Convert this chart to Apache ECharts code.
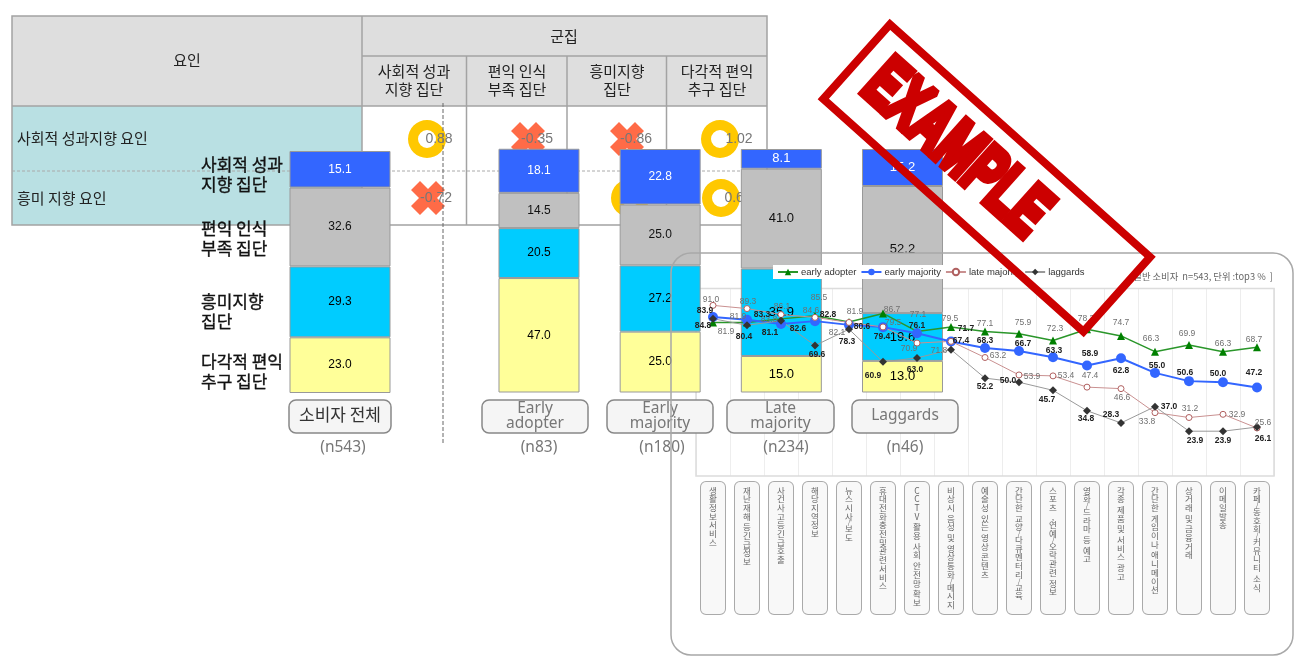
<!DOCTYPE html>
<html>
<head>
<meta charset="utf-8">
<style>
    html, body { margin: 0; padding: 0; background: #fff; }
    #target { width: 1296px; height: 659px; }
</style>
</head>
<body>
<div id="target"></div>
<script src="https://cdn.jsdelivr.net/npm/echarts@6/dist/echarts.min.js"></script>
<script>
    // 군집 요인 표
    const clusterNames = ['사회적 성과\n지향 집단', '편익 인식\n부족 집단', '흥미지향\n집단', '다각적 편익\n추구 집단']
    const factorNames = ['사회적 성과지향 요인', '흥미 지향 요인']
    const factorSocial = [0.88, -0.35, -0.86, 1.02]
    const factorFun = [-0.72, null, 0.66, 0.66]

    // 집단별 비중 (%)
    const groupNames = ['소비자 전체', 'Early\nadopter', 'Early\nmajority', 'Late\nmajority', 'Laggards']
    const groupSizes = ['(n543)', '(n83)', '(n180)', '(n234)', '(n46)']
    const sharePerf = [15.1, 18.1, 22.8, 8.1, 15.2]
    const shareLack = [32.6, 14.5, 25.0, 41.0, 52.2]
    const shareFun = [29.3, 20.5, 27.2, 35.9, 19.6]
    const shareMulti = [23.0, 47.0, 25.0, 15.0, 13.0]

    // 서비스별 top3 %
    const services = ['생활정보서비스', '재난재해 등긴급정보', '사건사고등긴급호출', '해당지역정보', '뉴스시사/보도', '휴대전화충전및관련서비스', 'CCTV 활용 사회 안전망 확보', '비상시 음성 및 영상통화/메시지', '예술성 있는 영상 콘텐츠', '간단한 교양/다큐멘터리/교육', '스포츠,연예/오락관련 정보', '영화/드라마 등 예고', '각종 제품 및 서비스 광고', '간단한 게임이나 애니메이션', '상거래 및 금융거래', '이메일발송', '카페/동호회/커뮤니티 소식']
    const earlyAdopter = [81.9, 81.9, 83.8, 85.5, 82.1, 86.7, 77.1, 79.5, 77.1, 75.9, 72.3, 78.3, 74.7, 66.3, 69.9, 66.3, 68.7]
    const earlyMajority = [84.8, 83.3, 81.1, 82.6, 80.6, 79.4, 76.1, 71.7, 68.3, 66.7, 63.3, 58.9, 62.8, 55.0, 50.6, 50.0, 47.2]
    const lateMajority = [91.0, 89.3, 86.1, 84.6, 81.9, 79.5, 70.9, 71.8, 63.2, 53.9, 53.4, 47.4, 46.6, 33.8, 31.2, 32.9, 25.6]
    const laggards = [83.9, 80.4, 82.8, 69.6, 78.3, 60.9, 63.0, 67.4, 52.2, 50.0, 45.7, 34.8, 28.3, 37.0, 23.9, 23.9, 26.1]

    // 라벨 위치 보정 (원본 그림의 라벨 배치)
    const offAdopter = [[13,9],[-9,-6],[-12,1],[4,-18],[-12,11],[9,-4],[1,-17],[-1,-8],[0,-8],[4,-11],[2,-12],[-1,-11],[0,-13],[-4,-13],[-2,-11],[0,-8],[-3,-8]]
    const offMajority = [[-10,9],[15,-5],[-11,9],[-17,8],[13,2],[-1,10],[0,-8],[15,-13],[0,-7],[4,-7],[1,-7],[3,-12],[0,12],[2,-7],[-4,-8],[-5,-9],[-3,-15]]
    const offLate = [[-2,-6],[1,-7],[1,-8],[-4,-7],[6,-11],[10,-4],[-8,6],[-12,9],[13,-2],[13,2],[13,0],[3,-11],[1,9],[-8,9],[1,-9],[14,0],[6,-5]]
    const offLaggards = [[-8,-8],[-3,11],[47,-6],[2,9],[-2,12],[-10,14],[-2,12],[10,-9],[0,9],[-11,-2],[-6,9],[-1,8],[-10,-8],[14,0],[6,9],[0,9],[6,12]]

    const krFont = '"Noto Sans CJK KR"'
    const numFont = '"Liberation Sans"'
    const tableLine = '#a3a3a3'

    function txt(x, y, text, size, color, opts) {
        opts = opts || {}
        return {
            type: 'text', x: x, y: y, z: opts.z || 1,
            style: {
                text: text, fill: color,
                font: (opts.weight || 'normal') + ' ' + size + 'px ' + (opts.family || krFont),
                textAlign: opts.align || 'center', textVerticalAlign: 'middle',
                lineHeight: opts.lineHeight,
                stroke: opts.stroke || null, lineWidth: opts.stroke ? 0.35 : 0
            }
        }
    }
    function rect(x, y, w, h, fill, r, stroke, z) {
        return {
            type: 'rect', z: z || 0,
            shape: { x: x, y: y, width: w, height: h, r: r || 0 },
            style: { fill: fill, stroke: stroke || null, lineWidth: stroke ? 1.5 : 0 }
        }
    }
    function line(x1, y1, x2, y2, color, dash) {
        return {
            type: 'line', z: 0,
            shape: { x1: x1, y1: y1, x2: x2, y2: y2 },
            style: { stroke: color || tableLine, lineWidth: dash ? 1 : 1.5, lineDash: dash || null }
        }
    }
    function ring(cx, cy) {
        return { type: 'ring', z: 0, shape: { cx: cx, cy: cy, r: 19, r0: 9 }, style: { fill: '#ffc800' } }
    }
    function cross(cx, cy) {
        const a = 17, t = 9
        const pts = [[-a,-a+t],[-a+t,-a],[0,-t],[a-t,-a],[a,-a+t],[t,0],[a,a-t],[a-t,a],[0,t],[-a+t,a],[-a,a-t],[-t,0]]
        return { type: 'polygon', z: 0, shape: { points: pts.map(p => [cx + p[0], cy + p[1]]) }, style: { fill: '#ff6b47' } }
    }

    const graphics = []

    // 표
    graphics.push(rect(12, 16, 755, 90, '#dedede'))
    graphics.push(rect(12, 106, 350, 119, '#b9e0e3'))
    graphics.push(rect(12, 16, 755, 209, null, 0, tableLine))
    graphics.push(line(362, 16, 362, 225))
    graphics.push(line(362, 56, 767, 56))
    graphics.push(line(12, 106, 767, 106))
    ;[466.5, 567, 666.5].forEach(x => graphics.push(line(x, 56, x, 225)))
    graphics.push(line(12, 171, 767, 171, '#aaaaaa', [3, 2]))
    graphics.push(txt(187, 60, '요인', 15, '#222'))
    graphics.push(txt(564, 36, '군집', 15, '#222'))
    const colX = [414, 517, 617, 717]
    clusterNames.forEach((name, i) => {
        graphics.push(txt(colX[i], 80, name, 15, '#222', { lineHeight: 18 }))
    })
    graphics.push(txt(17, 138, factorNames[0], 15, '#222', { align: 'left' }))
    graphics.push(txt(17, 198, factorNames[1], 15, '#222', { align: 'left' }))

    const symX = [[427, 528, 627, 720], [428, 528, 630, 721]]
    const valX = [[439, 537, 636, 739], [436, 537, 640, 738]]
    ;[factorSocial, factorFun].forEach((row, r) => {
        const cy = r === 0 ? 139 : 198
        row.forEach((v, i) => {
            if (v === null) return
            graphics.push(v > 0 ? ring(symX[r][i], cy) : cross(symX[r][i], cy))
            graphics.push(txt(valX[r][i], cy, v.toFixed(2), 14, '#777', { family: numFont, z: 0 }))
        })
    })
    graphics.push(line(443, 103, 443, 445, '#666', [4, 2]))

    // 막대 왼쪽 범례 글자
    const sideY = [175, 239, 312, 372]
    clusterNames.forEach((name, i) => {
        graphics.push(txt(201, sideY[i], name, 17, '#111', { align: 'left', lineHeight: 20, stroke: '#111' }))
    })

    // 집단 이름 상자
    const boxX = [[289, 102], [482, 106], [607, 106], [727, 107], [852, 106]]
    const sizeX = [343, 539, 662, 786, 905]
    groupNames.forEach((name, i) => {
        graphics.push(rect(boxX[i][0], 400, boxX[i][1], 33, '#f5f5f5', 7, '#888888', 1))
        const cx = boxX[i][0] + boxX[i][1] / 2
        if (i === 0) {
            graphics.push(txt(cx, 415, name, 17, '#333', { z: 2 }))
        } else {
            graphics.push(txt(cx, 416, name, 15.5, '#777', { lineHeight: 15, z: 2, family: '"Noto Sans"' }))
        }
        graphics.push(txt(sizeX[i], 448, groupSizes[i], 15.5, '#777', { family: '"Noto Sans"' }))
    })

    // 오른쪽 패널
    graphics.push({
        type: 'rect', z: 3,
        shape: { x: 671, y: 253, width: 622, height: 402, r: 20 },
        style: { fill: null, stroke: '#a8a8a8', lineWidth: 1.5 }
    })
    graphics.push(txt(1273, 276, '일반 소비자  n=543, 단위 :top3 %  ]', 9.3, '#666', { align: 'right', z: 4 }))

    // EXAMPLE 도장
    graphics.push({
        type: 'group', x: 986.7, y: 178, rotation: -41.8 * Math.PI / 180, z: 100,
        children: [
            {
                type: 'rect', z: 100,
                shape: { x: -174.5, y: -50, width: 349, height: 100 },
                style: { fill: null, stroke: '#cc0000', lineWidth: 8 }
            },
            {
                type: 'text', x: -42, y: 0, z: 100, scaleX: 0.64, scaleY: 1,
                style: {
                    text: 'EXAMPLE', font: 'bold 72px ' + numFont, fill: '#cc0000',
                    stroke: '#cc0000', lineWidth: 8,
                    textAlign: 'center', textVerticalAlign: 'middle'
                }
            }
        ]
    })

    // 누적 막대
    const barSeries = []
    const stacks = [
        { name: '다각적 편익 추구 집단', data: shareMulti, color: '#ffff99', text: '#000' },
        { name: '흥미지향 집단', data: shareFun, color: '#00ccff', text: '#000' },
        { name: '편익 인식 부족 집단', data: shareLack, color: '#c0c0c0', text: '#111' },
        { name: '사회적 성과 지향 집단', data: sharePerf, color: '#3366ff', text: '#fff' }
    ]
    stacks.forEach(s => {
        const common = {
            name: s.name, type: 'bar', z: 2,
            itemStyle: { color: s.color, borderColor: '#999', borderWidth: 1 },
            label: { show: true, position: 'inside', color: s.text, fontFamily: numFont, formatter: p => p.value.toFixed(1) },
            emphasis: { disabled: true }
        }
        barSeries.push(Object.assign({}, common, {
            stack: 'total', xAxisIndex: 0, yAxisIndex: 0, barWidth: 101,
            data: [{ value: s.data[0], label: { fontSize: 12 } }]
        }))
        barSeries.push(Object.assign({}, common, {
            stack: 'groups', xAxisIndex: 1, yAxisIndex: 1, barWidth: 81,
            data: s.data.slice(1).map((v, i) => ({ value: v, label: { fontSize: i > 1 ? 13 : 12 } }))
        }))
    })

    // 꺾은선
    function lineSeries(name, data, offs, color, width, symbol, size, itemStyle, labelColor, weight) {
        return {
            name: name, type: 'line', xAxisIndex: 2, yAxisIndex: 2, z: 5,
            symbol: symbol, symbolSize: size,
            lineStyle: { color: color, width: width },
            itemStyle: itemStyle,
            emphasis: { disabled: true },
            data: data.map((v, i) => ({
                value: v,
                label: { show: true, position: 'inside', offset: offs[i], formatter: p => p.value.toFixed(1),
                    color: labelColor, fontSize: 8.5, fontWeight: weight, fontFamily: numFont }
            }))
        }
    }
    const lineSeriesList = [
        lineSeries('early adopter', earlyAdopter, offAdopter, '#2a962a', 1.5, 'triangle', 8, { color: '#008000' }, '#707070', 'normal'),
        lineSeries('early majority', earlyMajority, offMajority, '#3366ff', 2, 'circle', 10, { color: '#3366ff' }, '#222', 'bold'),
        lineSeries('late majority', lateMajority, offLate, '#c99090', 1, 'circle', 6, { color: '#fff', borderColor: '#b06060', borderWidth: 1 }, '#707070', 'normal'),
        lineSeries('laggards', laggards, offLaggards, '#999999', 1, 'diamond', 8, { color: '#333' }, '#222', 'bold')
    ]

    function stackLabel(v) {
        return v.split('').map(c => {
            if (c === ' ') return '{sp| }'
            if (c === '/') return '{sl|/}'
            return '{t|' + c + '}'
        }).join('\n')
    }

    const hiddenAxis = { show: false }
    const mChart = echarts.init(document.getElementById('target'))
    const option = {
        animation: false,
        textStyle: { fontFamily: krFont },
        legend: {
            left: 773, top: 265, z: 4,
            backgroundColor: '#fff',
            padding: [2, 4, 2, 4],
            itemWidth: 20, itemHeight: 8, itemGap: 4,
            selectedMode: false,
            textStyle: { color: '#333', fontSize: 9.5, fontFamily: numFont, padding: [0, 0, 0, -2] },
            data: ['early adopter', 'early majority', 'late majority', 'laggards']
        },
        grid: [
            { left: 289, width: 102, top: 151, height: 242 },
            { left: 478.4, width: 484.7, top: 149, height: 243.5 },
            { left: 696, width: 578, top: 288.5, height: 187.5, show: true, borderColor: '#dcdcdc', borderWidth: 1.5, backgroundColor: 'transparent' }
        ],
        // x 축
        xAxis: [
            { type: 'category', gridIndex: 0, data: groupNames.slice(0, 1), show: false },
            { type: 'category', gridIndex: 1, data: groupNames.slice(1), show: false },
            {
                type: 'category', gridIndex: 2, data: services,
                axisLine: { show: false }, axisTick: { show: false },
                splitLine: { show: true, interval: 0, lineStyle: { color: '#dcdcdc', type: 'dotted' } },
                axisLabel: {
                    interval: 0, margin: 6, width: 24, height: 128, padding: [4, 0, 0, 0],
                    backgroundColor: '#f8f8f8', borderColor: '#aaaaaa', borderWidth: 1, borderRadius: 5,
                    align: 'center', verticalAlign: 'top',
                    formatter: stackLabel,
                    rich: {
                        t: { fontSize: 8.5, lineHeight: 8.7, color: '#666', align: 'center', fontFamily: krFont },
                        sp: { fontSize: 2, lineHeight: 2, color: '#666' },
                        sl: { fontSize: 7, lineHeight: 4, color: '#666', align: 'center' }
                    }
                }
            }
        ],
        // y 축
        yAxis: [
            Object.assign({ type: 'value', gridIndex: 0, min: 0, max: 100 }, hiddenAxis),
            Object.assign({ type: 'value', gridIndex: 1, min: 0, max: 100 }, hiddenAxis),
            Object.assign({ type: 'value', gridIndex: 2, min: 0, max: 100, splitLine: { show: false } }, hiddenAxis)
        ],
        graphic: { elements: graphics },
        series: barSeries.concat(lineSeriesList)
    }
    mChart.setOption(option)
    window.addEventListener('resize', function() {
        mChart.resize();
    });
</script>
</body>
</html>
